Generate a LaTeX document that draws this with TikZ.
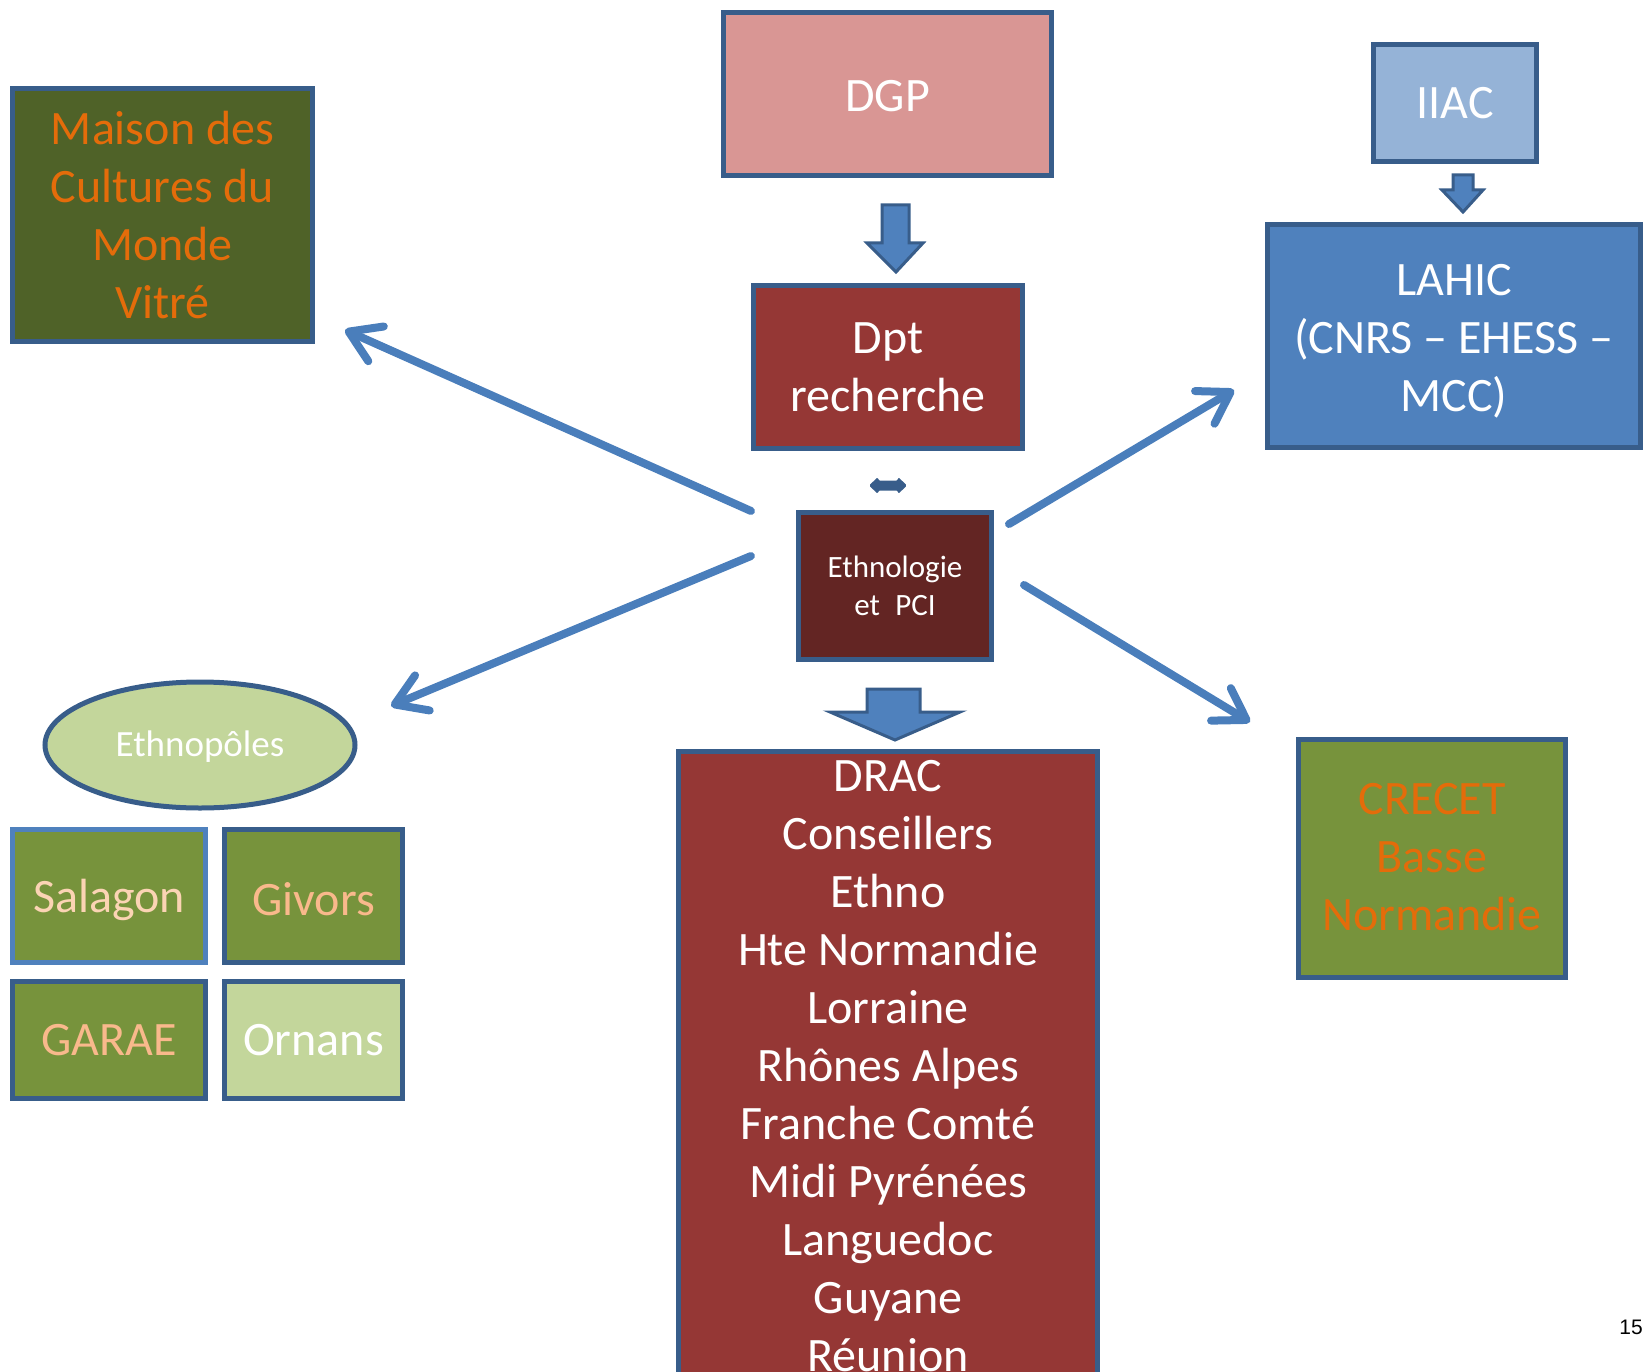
\documentclass[tikz,border=0pt]{standalone}
\usepackage{fontspec}
\setmainfont{Carlito}
\newfontfamily\numfont{Liberation Sans}
\usetikzlibrary{arrows.meta,shapes.geometric}
\definecolor{edge}{HTML}{385D8A}
\definecolor{arrowblue}{HTML}{4A7EBB}
\definecolor{pinkbox}{HTML}{D99694}
\definecolor{redbox}{HTML}{953735}
\definecolor{darkred}{HTML}{632523}
\definecolor{lightblue}{HTML}{95B3D7}
\definecolor{midblue}{HTML}{4F81BD}
\definecolor{darkolive}{HTML}{4F6228}
\definecolor{olive}{HTML}{77933C}
\definecolor{paleolive}{HTML}{C3D69B}
\definecolor{orangetxt}{HTML}{E46C0A}
\definecolor{peach}{HTML}{FBD4B4}
\definecolor{apricot}{HTML}{F9B98C}
\newcommand\bigtxt{\fontsize{48}{58}\selectfont}
\newcommand\midtxt{\fontsize{48}{56}\selectfont}
\newcommand\lowered[2]{\raisebox{-#1}[\height][\depth]{#2}}
\tikzset{
  box/.style={draw=edge, line width=5pt, rectangle, align=center, inner sep=0pt, text=white, font=\bigtxt},
  link/.style={draw=arrowblue, line width=8pt, line cap=round, -{Straight Barb[length=30pt,width=38pt,round]}},
  blockarrow/.style={fill=midblue, draw=edge, line width=3pt, line join=miter},
}
\begin{document}
\begin{tikzpicture}[x=1pt,y=-1pt]
\clip (0,0) rectangle (1645,1372);
% boites du haut
\node[box, fill=pinkbox, minimum width=328, minimum height=163] (dgp) at (887.5,94) {\lowered{2pt}{DGP}};
\node[box, fill=redbox, minimum width=269, minimum height=163] (dpt) at (888,367) {Dpt\\recherche};
\node[box, fill=darkred, minimum width=193, minimum height=147, font=\fontsize{31}{38}\selectfont] (ethno) at (895,586) {Ethnologie\\et\enspace PCI};
\node[box, fill=darkolive, text=orangetxt, minimum width=300, minimum height=253] (maison) at (162.5,215) {Maison des\\Cultures du\\Monde\\Vitré};
\node[box, fill=lightblue, minimum width=163, minimum height=117] (iiac) at (1455,103) {IIAC};
\node[box, fill=midblue, minimum width=373, minimum height=223] (lahic) at (1454,336) {\lowered{6pt}{\begin{tabular}{@{}c@{}}LAHIC\\(CNRS – EHESS –\\MCC)\end{tabular}}};
% boites du bas
\node[box, fill=redbox, minimum width=419, minimum height=630] (drac) at (888,1066) {DRAC\\Conseillers\\Ethno\\Hte Normandie\\Lorraine\\Rhônes Alpes\\Franche Comté\\Midi Pyrénées\\Languedoc\\Guyane\\Réunion};
\node[box, fill=olive, text=orangetxt, minimum width=267, minimum height=238] (crecet) at (1432,858.5) {\lowered{2pt}{\begin{tabular}{@{}c@{}}CRECET\\Basse\\Normandie\end{tabular}}};
\node[box, ellipse, fill=paleolive, minimum width=310, minimum height=126, font=\fontsize{37}{42}\selectfont] (ethnopoles) at (200,745) {\lowered{2pt}{Ethnopôles}};
\node[box, draw=midblue, fill=olive, text=peach, minimum width=193, minimum height=133, font=\midtxt] (salagon) at (109,896) {\lowered{4pt}{Salagon}};
\node[box, fill=olive, text=apricot, minimum width=178, minimum height=133, font=\midtxt] (givors) at (313.5,896) {\lowered{3pt}{Givors}};
\node[box, fill=olive, text=apricot, minimum width=193, minimum height=117, font=\midtxt] (garae) at (109,1040) {GARAE};
\node[box, fill=paleolive, minimum width=178, minimum height=117, font=\midtxt] (ornans) at (313.5,1040) {Ornans};
\node[font=\numfont\fontsize{21}{24}\selectfont] (page) at (1631,1327) {15};
% fleches pleines
\draw[blockarrow] (882,205) -- (909,205) -- (909,243) -- (923,243) -- (896,272) -- (867,243) -- (882,243) -- cycle;
\draw[blockarrow] (1453,175) -- (1473,175) -- (1473,190) -- (1483,190) -- (1463,212) -- (1442,190) -- (1453,190) -- cycle;
\draw[blockarrow] (867,689) -- (920,689) -- (920,712) -- (960,712) -- (895,740) -- (830,712) -- (867,712) -- cycle;
\fill[edge, rounded corners=1.5pt] (869,485.5) -- (878,477) -- (878,480.5) -- (898,480.5) -- (898,477) -- (907,485.5) -- (898,494) -- (898,490.5) -- (878,490.5) -- (878,494) -- cycle;
% fleches
\coordinate (mfrom) at (751,511); \coordinate (mto) at (345,330);
\coordinate (efrom) at (751,556); \coordinate (eto) at (391,706);
\coordinate (lfrom) at (1009,524); \coordinate (lto) at (1234,390);
\coordinate (cfrom) at (1024,585); \coordinate (cto) at (1250,722);
\draw[link] (mfrom) -- (mto);
\draw[link] (efrom) -- (eto);
\draw[link] (lfrom) -- (lto);
\draw[link] (cfrom) -- (cto);
\end{tikzpicture}
\end{document}
